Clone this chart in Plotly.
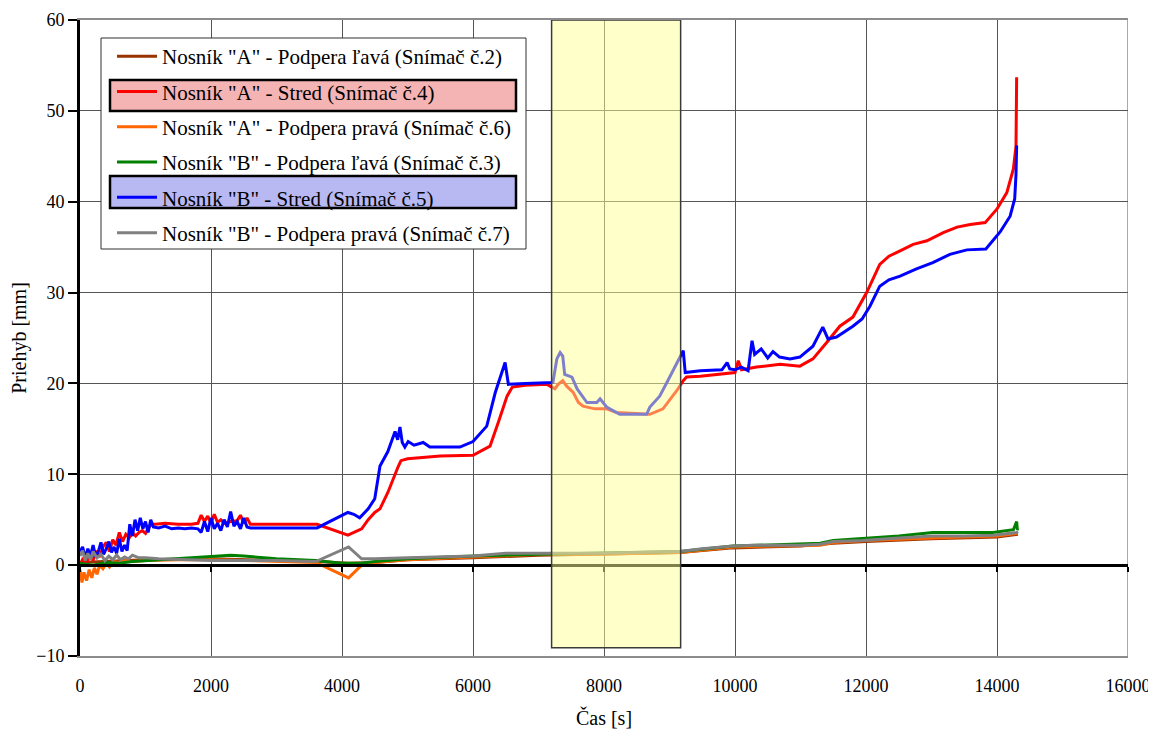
import plotly.graph_objects as go

# ---------------- data ----------------
names = [
    'Nosník "A" - Podpera ľavá (Snímač č.2)',
    'Nosník "A" - Stred (Snímač č.4)',
    'Nosník "A" - Podpera pravá (Snímač č.6)',
    'Nosník "B" - Podpera ľavá (Snímač č.3)',
    'Nosník "B" - Stred (Snímač č.5)',
    'Nosník "B" - Podpera pravá (Snímač č.7)',
]
colors = ["#993300", "#FF0000", "#FF6600", "#008000", "#0000FF", "#808080"]

# Snímač č.2
t_a_left = [0, 300, 600, 1000, 2000, 3000, 3600, 4100, 4500, 5000, 6000, 7000, 7940, 9160,
            9970, 11000, 11500, 12000, 13000, 14000, 14320]
v_a_left = [0.3, 0.4, 0.5, 0.6, 0.7, 0.5, 0.4, 0.2, 0.3, 0.6, 0.8, 1.1, 1.2, 1.4,
            1.9, 2.1, 2.4, 2.6, 2.9, 3.1, 3.4]

# Snímač č.4
t_a_mid = [0, 50, 100, 150, 200, 250, 300, 350, 400, 450, 500, 550, 600, 650, 700, 750, 800,
           850, 900, 950, 1000, 1050, 1100, 1150, 1300, 1500, 1700, 1800, 1850, 1900, 1950,
           2000, 2050, 2100, 2150, 2200, 2300, 2400, 2450, 2500, 2550, 2600, 3000, 3300, 3620,
           4090, 4200, 4300, 4400, 4500, 4580, 4700, 4855, 4900, 5000, 5500, 6000, 6260, 6400,
           6520, 6600, 6800, 7130, 7250, 7300, 7370, 7430, 7530, 7610, 7680, 7860, 8040, 8190,
           8700, 8900, 9110, 9210, 9260, 9470, 9800, 10000, 10050, 10100, 10330, 10690, 10990,
           11190, 11400, 11600, 11800, 12010, 12210, 12350, 12520, 12720, 12930, 13180, 13390,
           13590, 13820, 14000, 14150, 14250, 14290, 14300]
v_a_mid = [0.0, 0.8, 0.2, 1.2, 0.5, 1.6, 0.9, 2.0, 2.5, 1.5, 2.8, 2.2, 3.6, 2.6, 3.4, 3.0, 3.6,
           3.2, 3.6, 3.8, 3.5, 4.2, 4.5, 4.5, 4.6, 4.5, 4.5, 4.6, 5.5, 4.8, 5.4,
           4.6, 5.6, 4.7, 5.0, 4.6, 4.8, 4.9, 5.5, 4.6, 5.2, 4.5, 4.5, 4.5, 4.5,
           3.3, 3.7, 4.0, 5.0, 5.8, 6.2, 8.0, 10.8, 11.5, 11.7, 12.0, 12.1, 13.1, 16.0,
           18.6, 19.6, 19.8, 19.9, 19.4, 19.9, 20.3, 19.7, 19.0, 17.9, 17.5, 17.2, 17.2, 16.8,
           16.6, 17.2, 19.2, 20.3, 20.7, 20.8, 21.0, 21.2, 22.5, 21.5, 21.8, 22.1, 21.9,
           22.7, 24.5, 26.3, 27.3, 30.0, 33.1, 34.0, 34.6, 35.3, 35.7, 36.6, 37.2,
           37.5, 37.7, 39.2, 41.0, 43.6, 46.1, 53.7]

# Snímač č.6
t_a_right = [0, 30, 60, 100, 140, 180, 220, 260, 300, 350, 400, 450, 500, 600, 700, 800, 1000,
             1500, 2000, 2500, 3000, 3600, 4100, 4300, 4500, 5000, 6000, 7000, 7940, 9160,
             9970, 10500, 11300, 11500, 12000, 13000, 14000, 14320]
v_a_right = [-0.5, -1.9, -0.8, -1.7, -0.5, -1.4, -0.3, -1.0, 0.0, -0.4, 0.2, -0.2, 0.4, 0.3, 0.5,
             0.4, 0.5, 0.6, 0.6, 0.5, 0.4, 0.3, -1.4, 0.0, 0.3, 0.6, 0.9, 1.2, 1.2, 1.4,
             2.0, 2.1, 2.2, 2.5, 2.7, 3.0, 3.2, 3.5]

# Snímač č.3
t_b_left = [0, 200, 400, 600, 800, 1000, 1500, 2000, 2300, 2500, 3000, 3600, 4000, 4300, 4500,
            5000, 6000, 7000, 7940, 9160, 9970, 10500, 11300, 11500, 11950, 12500, 13020,
            13500, 13940, 14250, 14300, 14310, 14320]
v_b_left = [0.2, 0.0, 0.3, 0.2, 0.4, 0.5, 0.7, 1.0, 1.1, 1.0, 0.7, 0.5, 0.2, 0.2, 0.4,
            0.7, 1.0, 1.2, 1.3, 1.5, 2.1, 2.2, 2.4, 2.7, 2.9, 3.2, 3.6,
            3.6, 3.6, 3.9, 4.8, 3.9, 4.0]

# Snímač č.5
t_b_mid = [0, 40, 80, 120, 160, 200, 240, 280, 320, 360, 400, 440, 480, 520, 560, 600, 640, 680,
           720, 760, 800, 840, 880, 920, 960, 1000, 1040, 1080, 1120, 1200, 1300, 1400, 1500,
           1600, 1700, 1800, 1850, 1900, 1950, 2000, 2050, 2100, 2150, 2200, 2250, 2300, 2350,
           2400, 2450, 2500, 2550, 2600, 2800, 3000, 3200, 3400, 3620, 4090, 4180, 4270, 4400,
           4500, 4580, 4700, 4810, 4850, 4885, 4920, 4960, 5010, 5100, 5240, 5300, 5340, 5800,
           6000, 6210, 6340, 6490, 6540, 6800, 7220, 7280, 7330, 7370, 7400, 7510, 7590, 7740,
           7890, 7940, 8040, 8240, 8650, 8700, 8850, 8960, 9130, 9210, 9240, 9470, 9800, 9880,
           9920, 10000, 10100, 10200, 10260, 10300, 10400, 10500, 10580, 10680, 10840, 10990,
           11190, 11340, 11420, 11550, 11800, 11940, 12060, 12210, 12350, 12520, 12770, 13020,
           13280, 13540, 13830, 14050, 14200, 14270, 14290, 14300]
v_b_mid = [1.5, 2.0, 0.8, 1.8, 1.0, 2.2, 0.9, 1.5, 2.5, 1.2, 1.8, 2.6, 1.4, 2.0, 1.3, 2.9, 1.5, 2.2,
           1.6, 4.5, 3.2, 5.0, 3.8, 5.2, 4.0, 4.8, 3.6, 5.0, 4.2, 4.1, 4.3, 4.0, 4.1,
           4.0, 4.1, 4.0, 3.6, 4.8, 3.7, 5.2, 4.0, 4.6, 3.8, 5.0, 4.2, 5.9, 4.3,
           4.8, 4.0, 5.2, 4.2, 4.1, 4.1, 4.1, 4.1, 4.1, 4.1, 5.8, 5.6, 5.2, 6.2,
           7.3, 10.9, 12.5, 14.7, 13.8, 15.2, 13.5, 13.0, 13.6, 13.2, 13.5, 13.2, 13.0, 13.0,
           13.6, 15.3, 19.0, 22.3, 19.9, 20.0, 20.1, 22.7, 23.4, 23.0, 21.0, 20.7, 19.4, 17.9,
           17.9, 18.3, 17.4, 16.6, 16.6, 17.4, 18.6, 20.1, 22.5, 23.6, 21.2, 21.4, 21.5, 22.3,
           21.6, 21.5, 21.8, 21.4, 24.7, 23.2, 23.8, 22.8, 23.5, 22.9, 22.7, 22.9,
           24.1, 26.2, 24.9, 25.1, 26.3, 27.1, 28.5, 30.7, 31.4, 31.8, 32.6, 33.3,
           34.2, 34.7, 34.8, 36.7, 38.4, 40.3, 43.0, 46.2]

# Snímač č.7
t_b_right = [0, 40, 80, 120, 160, 200, 260, 320, 380, 440, 500, 560, 620, 680, 740, 800, 900,
             1000, 1200, 1500, 2000, 2500, 3000, 3600, 4100, 4300, 4500, 5000, 5500, 6000, 6500,
             7000, 7940, 9160, 9500, 9970, 10300, 11000, 11300, 11500, 11950, 12500, 13020,
             13500, 13940, 14300, 14320]
v_b_right = [1.0, 1.6, 0.5, 1.3, 0.6, 1.5, 0.8, 1.2, 0.5, 1.0, 0.6, 1.1, 0.6, 0.9, 0.7, 1.1, 0.8,
             0.8, 0.7, 0.6, 0.5, 0.5, 0.5, 0.4, 2.0, 0.7, 0.7, 0.8, 0.9, 1.0, 1.3,
             1.3, 1.3, 1.5, 1.8, 2.1, 2.2, 2.2, 2.3, 2.6, 2.7, 3.0, 3.2,
             3.2, 3.3, 3.6, 3.7]

series_t = [t_a_left, t_a_mid, t_a_right, t_b_left, t_b_mid, t_b_right]
series_v = [v_a_left, v_a_mid, v_a_right, v_b_left, v_b_mid, v_b_right]

x_ticks = [0, 2000, 4000, 6000, 8000, 10000, 12000, 14000, 16000]
y_ticks = [-10, 0, 10, 20, 30, 40, 50, 60]
x_range = [0, 16000]
y_range = [-10, 60]
highlight_x = [7200, 9170]
highlight_y = [-9.1, 60]

FONT = "Liberation Serif, Times New Roman, serif"

fig = go.Figure()
for i in range(6):
    fig.add_trace(go.Scatter(
        x=series_t[i], y=series_v[i], name=names[i], mode="lines",
        line=dict(color=colors[i], width=3), legendgroup=f"g{i}",
        # last series is drawn against the zero-line axis (same scale as x)
        xaxis="x2" if i == 5 else "x",
    ))

# The page places the figure 8px from the window's top-left corner.
OFF = 8
W, H = 1156 - OFF, 735 - OFF
# plot area in window pixels: 80..1128 x 20..656
L, R, T, B = 80, 1128, 20, 656
def px(xp):
    return (xp - L) / (R - L)
def py(yp):
    return (B - yp) / (B - T)

shapes = [
    # highlight band (drawn over the lines, translucent)
    dict(type="rect", xref="x", yref="y", x0=highlight_x[0], x1=highlight_x[1],
         y0=highlight_y[0], y1=highlight_y[1], layer="above",
         fillcolor="rgba(255,255,150,0.5)", line=dict(color="#3a3a3a", width=1.5)),
    # right border of plot area
    dict(type="line", xref="x", yref="y", x0=x_range[1], x1=x_range[1],
         y0=y_range[0], y1=y_range[1], layer="below", line=dict(color="#555555", width=1)),
    # legend frame
    dict(type="rect", xref="paper", yref="paper", x0=px(101), x1=px(526), y0=py(249), y1=py(38),
         layer="above", fillcolor="white", line=dict(color="#303030", width=1)),
    dict(type="rect", xref="paper", yref="paper", x0=px(110), x1=px(516), y0=py(111), y1=py(80),
         layer="above", fillcolor="#F5B4B4", line=dict(color="black", width=2.5)),
    dict(type="rect", xref="paper", yref="paper", x0=px(110), x1=px(516), y0=py(208), y1=py(176),
         layer="above", fillcolor="#B8B8F2", line=dict(color="black", width=2.5)),
]

fig.update_layout(
    width=W, height=H,
    margin=dict(l=L - OFF, r=1156 - R, t=T - OFF, b=735 - B),
    paper_bgcolor="white", plot_bgcolor="white",
    font=dict(family=FONT, size=20, color="black"),
    showlegend=True,
    legend=dict(x=px(112), y=py(36), xanchor="left", yanchor="top",
                bgcolor="rgba(0,0,0,0)", borderwidth=0,
                font=dict(family=FONT, size=21, color="black"),
                tracegroupgap=5, itemwidth=40),
    shapes=shapes,
    xaxis=dict(range=x_range, tickvals=x_ticks, ticktext=[str(v) for v in x_ticks],
               showgrid=True, gridcolor="#555555", gridwidth=1,
               showline=True, linecolor="#8c8c8c", linewidth=2, mirror=True,
               ticks="", zeroline=False, automargin=False, ticklabelstandoff=12,
               title=dict(text="Čas [s]", font=dict(family=FONT, size=20), standoff=16),
               tickfont=dict(family=FONT, size=18)),
    xaxis2=dict(range=x_range, overlaying="x", anchor="free",
                position=(0 - y_range[0]) / (y_range[1] - y_range[0]),
                side="bottom", tickvals=x_ticks, showticklabels=False, showgrid=False,
                showline=True, linecolor="black", linewidth=3, automargin=False,
                ticks="outside", ticklen=5, tickwidth=2, tickcolor="black", zeroline=False),
    yaxis=dict(range=y_range, tickvals=y_ticks, showgrid=True, gridcolor="#555555",
               gridwidth=1, showline=True, linecolor="black", linewidth=3,
               ticks="outside", ticklen=9, tickwidth=2, tickcolor="black",
               zeroline=False, automargin=False, ticklabelstandoff=0,
               title=dict(text="Priehyb [mm]", font=dict(family=FONT, size=20), standoff=6),
               tickfont=dict(family=FONT, size=18)),
)

fig.write_html("out.html")
